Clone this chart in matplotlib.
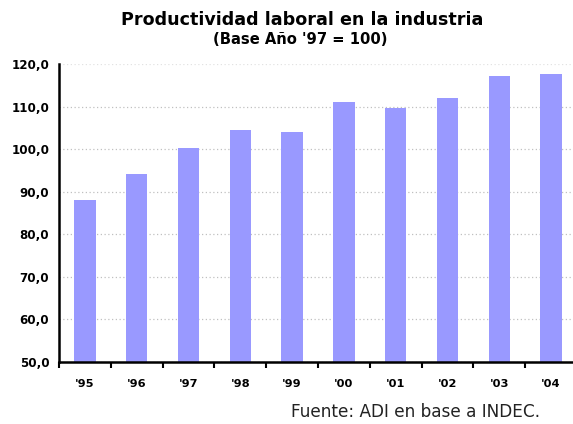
import numpy as np
import matplotlib
matplotlib.use('Agg')
import matplotlib.pyplot as plt

years = ["'95", "'96", "'97", "'98", "'99", "'00", "'01", "'02", "'03", "'04"]
productividad = [88.0, 94.2, 100.3, 104.5, 104.0, 111.1, 109.7, 112.0, 117.2, 117.7]
yticks = [50, 60, 70, 80, 90, 100, 110, 120]

fig = plt.figure(figsize=(5.73, 4.24), dpi=100)
ax = fig.add_axes([59/573, 1 - 362/424, 518/573, 298/424])

x = np.arange(len(years))
ax.bar(x, productividad, width=0.41, color='#9999FF', zorder=2)

ax.set_ylim(50, 120)
ax.set_xlim(-0.5, len(years) - 0.5)
ax.set_yticks(yticks)
ax.set_yticklabels(['{:.1f}'.format(v).replace('.', ',') for v in yticks],
                   fontsize=8.6, fontweight='bold')
ax.tick_params(axis='y', length=0, pad=7)

# category labels in the middle, tick marks on the boundaries
ax.set_xticks(x)
ax.set_xticklabels(years, fontsize=8.2, fontweight='bold')
ax.tick_params(axis='x', which='major', length=0, pad=12)
ax.set_xticks(np.arange(len(years) + 1) - 0.5, minor=True)
ax.tick_params(axis='x', which='minor', length=4, width=1.5, direction='out')

ax.grid(axis='y', color='#c0c0c0', linestyle=(0, (1, 2)), linewidth=0.9, zorder=0)
ax.get_ygridlines()[-1].set_color('#e2e2e2')
for s in ['top', 'right']:
    ax.spines[s].set_visible(False)
ax.spines['left'].set_linewidth(1.8)
ax.spines['bottom'].set_linewidth(1.8)

fig.text(302/573, 1 - 20/424, 'Productividad laboral en la industria',
         ha='center', va='center', fontsize=12.6, fontweight='bold')
fig.text(300/573, 1 - 40/424, "(Base Año '97 = 100)",
         ha='center', va='center', fontsize=10.6, fontweight='bold')
fig.text(540/573, 1 - 412/424, 'Fuente: ADI en base a INDEC.',
         ha='right', va='center', fontsize=12.2, color='#222222')

fig.savefig('out.png', dpi=100)
